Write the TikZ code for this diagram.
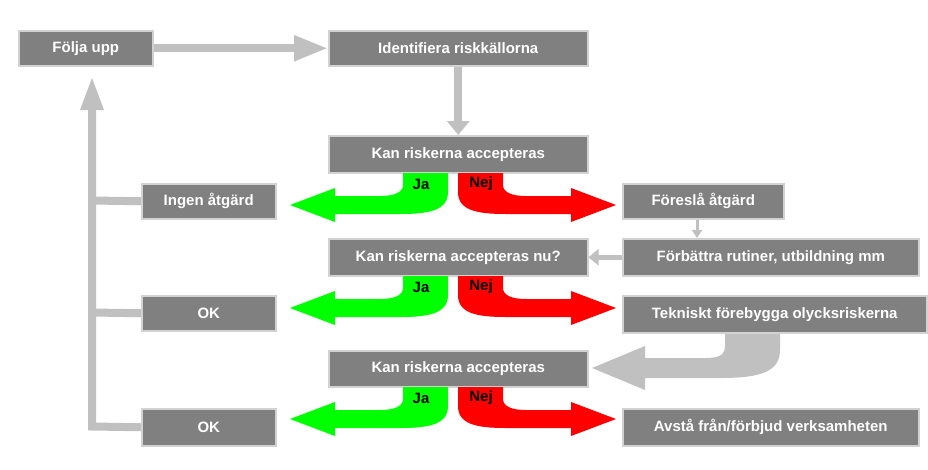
\documentclass[tikz,border=0pt]{standalone}
\usepackage{fontspec}
\setmainfont{Liberation Sans}
\usetikzlibrary{arrows.meta}
\begin{document}
\begin{tikzpicture}[x=1pt,y=-1pt,
  box/.style={draw=gray!35,line width=1.5pt,fill={rgb,255:red,128;green,128;blue,128},text=white,font=\bfseries\fontsize{15}{17}\selectfont,inner sep=0pt,anchor=north west},
  gconn/.style={draw={rgb,255:red,192;green,192;blue,192},line width=8pt},
  ghead/.style={-{Triangle[length=34pt,width=24pt]}},
  lbl/.style={font=\bfseries\fontsize{15}{17}\selectfont,text=black}]
\useasboundingbox (0,0) rectangle (928,469);
\definecolor{lg}{RGB}{192,192,192}
\newcommand{\bx}[6]{\node[box,minimum width=#4-#2,minimum height=#5-#3] (#1) at (#2,#3) {#6};}
\bx{folj}{18}{30}{152}{65}{Följa upp}
\bx{iden}{328}{30}{587}{65}{Identifiera riskkällorna}
\bx{kan1}{328}{135}{587}{172}{Kan riskerna accepteras}
\bx{ingen}{141}{183}{275}{218}{Ingen åtgärd}
\bx{fore}{622}{183}{783}{218}{Föreslå åtgärd}
\bx{kan2}{328}{238}{587}{275}{Kan riskerna accepteras nu?}
\bx{forb}{622}{238}{918}{275}{Förbättra rutiner, utbildning mm}
\bx{ok1}{141}{295}{275}{330}{OK}
\bx{tekn}{622}{295}{926}{332}{Tekniskt förebygga olycksriskerna}
\bx{kan3}{328}{350}{587}{386}{Kan riskerna accepteras}
\bx{ok2}{141}{408}{275}{445}{OK}
\bx{avst}{622}{408}{918}{445}{Avstå från/förbjud verksamheten}
% gray connectors
\draw[gconn,ghead] (folj.east) -- (iden.west);
\draw[gconn,-{Triangle[length=14pt,width=22pt]}] (iden.south) -- (kan1.north);
\coordinate (lx) at (92,80);
\draw[gconn] (ok2.west) -- (92,426.5) -- (92,110);
\fill[lg] (80,110) -- (104,110) -- (92,78) -- cycle;
\draw[gconn] (ingen.west) -- (92,200.5);
\draw[gconn] (ok1.west) -- (92,312.5);
\draw[draw=lg,line width=3pt,-{Triangle[length=8pt,width=10pt]}] (fore.south-|697,0) -- (forb.north-|697,0);
\draw[draw=lg,line width=5pt,-{Triangle[length=10pt,width=16pt]}] (forb.west) -- (kan2.east);
\fill[lg] (725,334) -- (780,334) -- (780,350) .. controls (780,372) and (760,378) .. (720,378) -- (645,378) -- (645,390) -- (592,368) -- (645,346) -- (645,358) -- (705,358) .. controls (720,358) and (725,355) .. (725,345) -- cycle;
% green / red arrows
\foreach \dy/\n in {0/1,103/2,214/3}{
\begin{scope}[yshift=-\dy]
\fill[green] (403,173) -- (448,173) -- (448,192) .. controls (448,210) and (430,214) .. (400,214) -- (335,214) -- (335,222) -- (290,205) -- (335,188) -- (335,196) -- (380,196) .. controls (395,196) and (403,192) .. (403,185) -- cycle;
\fill[red] (503,173) -- (458,173) -- (458,192) .. controls (458,210) and (476,214) .. (506,214) -- (571,214) -- (571,222) -- (616,205) -- (571,188) -- (571,196) -- (526,196) .. controls (511,196) and (503,192) .. (503,185) -- cycle;
\node[lbl] (ja\n) at (421,184) {Ja};
\node[lbl] (nej\n) at (481,184) {Nej};
\end{scope}}
\end{tikzpicture}
\end{document}
